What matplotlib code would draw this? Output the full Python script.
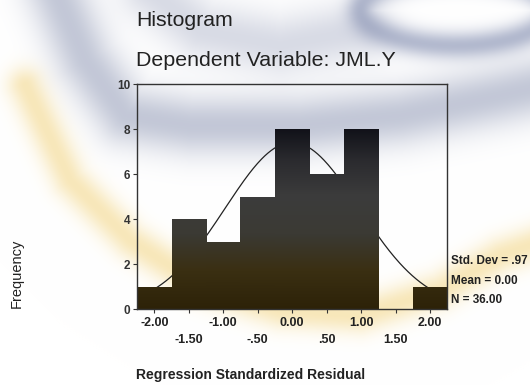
import numpy as np
import matplotlib
matplotlib.use("Agg")
import matplotlib.pyplot as plt
from matplotlib.colors import LinearSegmentedColormap

# ---- data ----
bin_centers = [-2.0, -1.5, -1.0, -0.5, 0.0, 0.5, 1.0, 1.5, 2.0]
counts = [1, 4, 3, 5, 8, 6, 8, 0, 1]
bin_width = 0.5
std_dev = 0.97
mean = 0.00
n_total = 36
upper_ticks = [-2.0, -1.0, 0.0, 1.0, 2.0]
upper_labels = ["-2.00", "-1.00", "0.00", "1.00", "2.00"]
lower_ticks = [-1.5, -0.5, 0.5, 1.5]
lower_labels = ["-1.50", "-.50", ".50", "1.50"]
y_ticks = [0, 2, 4, 6, 8, 10]

plt.rcParams['font.family'] = ['Liberation Sans', 'DejaVu Sans']

W, H = 530, 385
fig = plt.figure(figsize=(W / 100, H / 100), dpi=100)
fig.patch.set_facecolor('white')

# ---- soft watermark-like background (decorative) ----
yy, xx = np.mgrid[0:H, 0:W].astype(float)


def dist_to_polyline(pts):
    d = np.full(xx.shape, np.inf)
    for (x0, y0), (x1, y1) in zip(pts[:-1], pts[1:]):
        dx, dy = x1 - x0, y1 - y0
        t = np.clip(((xx - x0) * dx + (yy - y0) * dy) / (dx * dx + dy * dy), 0, 1)
        px, py = x0 + t * dx, y0 + t * dy
        d = np.minimum(d, np.hypot(xx - px, yy - py))
    return d


img = np.ones((H, W, 3))


def blend(alpha, color):
    global img
    c = np.array(color) / 255.0
    img = img * (1 - alpha[..., None]) + c * alpha[..., None]


blue_pts = [(55, -10), (85, 60), (125, 115), (190, 125), (300, 125), (400, 115), (500, 95), (545, 85)]
d = dist_to_polyline(blue_pts)
blend(0.48 * np.exp(-(d / 30) ** 2), (130, 140, 172))

theta = np.linspace(0, 2 * np.pi, 60)
ring = list(zip(455 + 95 * np.cos(theta), 10 + 35 * np.sin(theta)))
d = dist_to_polyline(ring)
blend(0.55 * np.exp(-(d / 14) ** 2), (118, 130, 168))

tl_pts = [(150, -10), (200, 30), (280, 45), (360, 30)]
d = dist_to_polyline(tl_pts)
blend(0.35 * np.exp(-(d / 30) ** 2), (145, 153, 182))

yel_pts = [(25, 85), (70, 180), (130, 240), (200, 285), (280, 310), (360, 315), (440, 290), (500, 255), (545, 240)]
d = dist_to_polyline(yel_pts)
blend(0.55 * np.exp(-(d / 18) ** 2), (242, 212, 130))

bg = fig.add_axes([0, 0, 1, 1], zorder=-10)
bg.imshow(img, extent=[0, W, H, 0], aspect='auto')
bg.set_xlim(0, W); bg.set_ylim(H, 0); bg.axis('off')

# ---- histogram ----
ax = fig.add_axes([0.2585, 0.1974, 0.5858, 0.5844])
ax.set_facecolor('none')
ax.set_xlim(-2.25, 2.25)
ax.set_ylim(0, 10)

cmap = LinearSegmentedColormap.from_list(
    'barg', ['#05060f', '#0b0c14', '#2a2a2e', '#3c3c3c', '#3b3a34', '#3a2f12', '#2d2208'])
grad = np.linspace(0, 1, 256).reshape(-1, 1)
bars = ax.bar(bin_centers, counts, width=bin_width, color='#2a2a2a', edgecolor='none', zorder=2)
for b in bars:
    if b.get_height() <= 0:
        continue
    im = ax.imshow(grad, cmap=cmap, extent=[-2.25, 2.25, 0, 10], aspect='auto',
                   origin='upper', zorder=2.1, vmin=0, vmax=1)
    im.set_clip_path(b)

xs = np.linspace(-2.25, 2.25, 300)
ys = n_total * bin_width / (std_dev * np.sqrt(2 * np.pi)) * np.exp(-0.5 * ((xs - mean) / std_dev) ** 2)
ax.plot(xs, ys, color='#222222', lw=0.9, zorder=1.5)

for s in ax.spines.values():
    s.set_color('#333333'); s.set_linewidth(1.0)

ax.set_yticks(y_ticks)
ax.set_yticklabels([str(v) for v in y_ticks], fontsize=8.5, fontweight='bold', color='#222222')
ax.tick_params(axis='y', length=3, width=0.8, pad=2, colors='#333333')
ax.set_xticks(upper_ticks + lower_ticks)
ax.set_xticklabels([])
ax.tick_params(axis='x', length=3, width=0.8, colors='#333333')
for t, l in zip(upper_ticks, upper_labels):
    ax.text(t, -0.6, l, ha='center', va='center', fontsize=9, fontweight='bold', color='#222222')
for t, l in zip(lower_ticks, lower_labels):
    ax.text(t, -1.38, l, ha='center', va='center', fontsize=9, fontweight='bold', color='#222222')

# stats
for yp, txt in [(261, "Std. Dev = .97"), (281, "Mean = 0.00"), (300, "N = 36.00")]:
    fig.text(451 / W, 1 - yp / H, txt, fontsize=8.5, fontweight='bold', color='#222222', va='center')

fig.text(136 / W, 1 - 20 / H, "Histogram", fontsize=15.3, color='#222222', va='center')
fig.text(136 / W, 1 - 60 / H, "Dependent Variable: JML.Y", fontsize=15.4, color='#222222', va='center')
fig.text(17 / W, 1 - 273 / H, "Frequency", fontsize=10.5, rotation=90, color='#222222', ha='center', va='center')
fig.text(251 / W, 1 - 375 / H, "Regression Standardized Residual", fontsize=10, fontweight='bold',
         color='#222222', ha='center', va='center')

fig.savefig('out.png', dpi=100)
